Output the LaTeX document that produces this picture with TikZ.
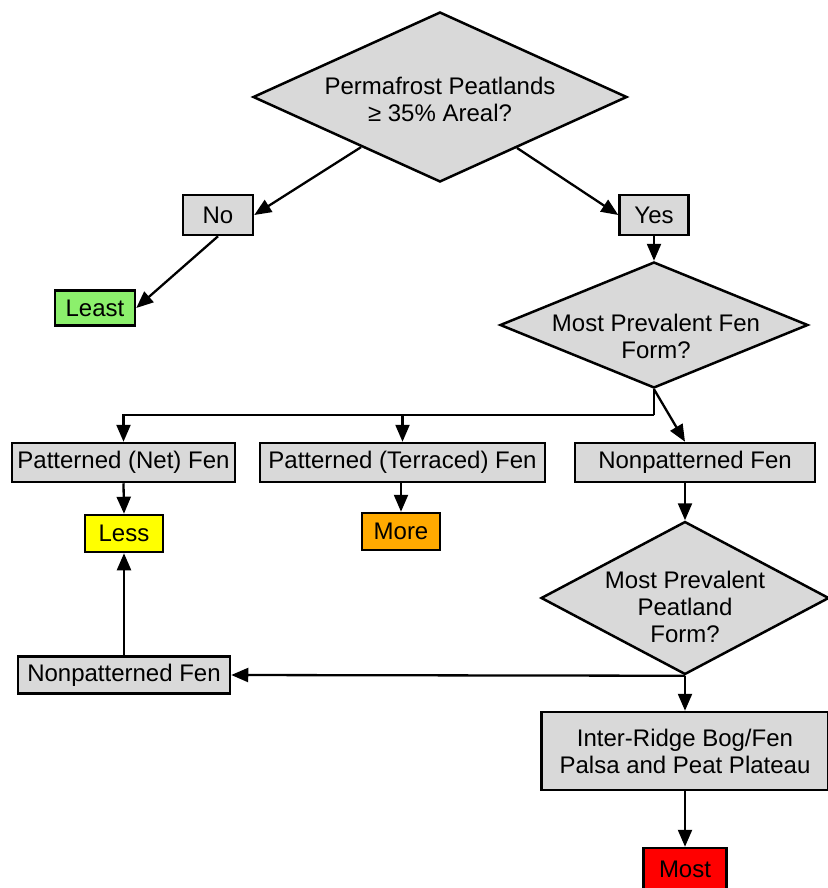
\documentclass[tikz,border=0pt]{standalone}
\usepackage{fontspec}
\setmainfont{Liberation Sans}
\usetikzlibrary{shapes.geometric,arrows.meta,calc}
\definecolor{boxgray}{HTML}{D9D9D9}
\definecolor{leastgreen}{HTML}{8CF06C}
\definecolor{lessyellow}{HTML}{FFFF00}
\definecolor{moreorange}{HTML}{FFAA00}
\definecolor{mostred}{HTML}{FF0000}
\begin{document}
\begin{tikzpicture}[x=1pt,y=-1pt,
  box/.style={draw=black,line width=2.5pt,fill=boxgray,inner sep=0pt,
    font=\fontsize{24}{27}\selectfont,align=center},
  dia/.style={diamond,draw=black,line width=2.5pt,fill=boxgray,inner sep=0pt},
  txt/.style={inner sep=0pt,font=\fontsize{24}{27}\selectfont,align=center},
  arr/.style={line width=2.3pt,-{Triangle[length=17pt,width=14pt]}},
  ln/.style={line width=2.3pt}]
\useasboundingbox (0,0) rectangle (827,888);

% diamonds
\node[dia,minimum width=374,minimum height=170] (d1) at (440,97) {};
\node[txt] (d1t) at (440,99) {Permafrost Peatlands\\≥ 35\% Areal?};
\node[dia,minimum width=308,minimum height=126] (d2) at (654,325) {};
\node[txt] (d2t) at (656,336) {Most Prevalent Fen\\Form?};
\node[dia,minimum width=288,minimum height=153] (d3) at (685,598) {};
\node[txt] (d3t) at (685,607) {Most Prevalent\\Peatland\\Form?};

% boxes
\node[box,minimum width=70,minimum height=40] (no) at (218,215) {No};
\node[box,minimum width=69,minimum height=40] (yes) at (654,215) {Yes};
\node[box,fill=leastgreen,minimum width=80,minimum height=35] (least) at (95,308) {Least};
\node[box,minimum width=223,minimum height=39] (pnet) at (123.5,462.5) {Patterned (Net) Fen};
\node[box,minimum width=285,minimum height=39] (pter) at (402.5,462.5) {Patterned (Terraced) Fen};
\node[box,minimum width=240,minimum height=39] (npf1) at (695,462.5) {Nonpatterned Fen};
\node[box,fill=lessyellow,minimum width=78,minimum height=37] (less) at (124,533.5) {Less};
\node[box,fill=moreorange,minimum width=78,minimum height=37] (more) at (401,531.5) {More};
\node[box,minimum width=212,minimum height=37] (npf2) at (124,675) {Nonpatterned Fen};
\node[box,minimum width=287,minimum height=78] (ir) at (685,751) {Inter-Ridge Bog/Fen\\Palsa and Peat Plateau};
\node[box,fill=mostred,minimum width=83,minimum height=42] (most) at (685,869) {Most};

% connectors
\draw[arr] (d1) -- (no.east);
\draw[arr] (d1) -- (yes.west);
\draw[arr] (no.south) -- (least.east);
\draw[arr] (yes.south) -- (d2.north);
\coordinate (j) at (654,415);
\draw[ln] (d2.south) -- (j);
\draw[arr] (j) -| (pnet.north);
\draw[arr] (j) -| (pter.north);
\draw[arr] (d2.south) -- (npf1.north -| d3.north);
\draw[arr] (pnet.south) -- (less.north);
\draw[arr] (pter.south -| more.north) -- (more.north);
\draw[arr] (npf1.south -| d3.north) -- (d3.north);
\draw[arr] (d3.south) -- (npf2.east);
\draw[arr] (d3.south) -- (ir.north);
\draw[arr] (ir.south) -- (most.north);
\draw[arr] (npf2.north) -- (less.south);
\end{tikzpicture}
\end{document}
